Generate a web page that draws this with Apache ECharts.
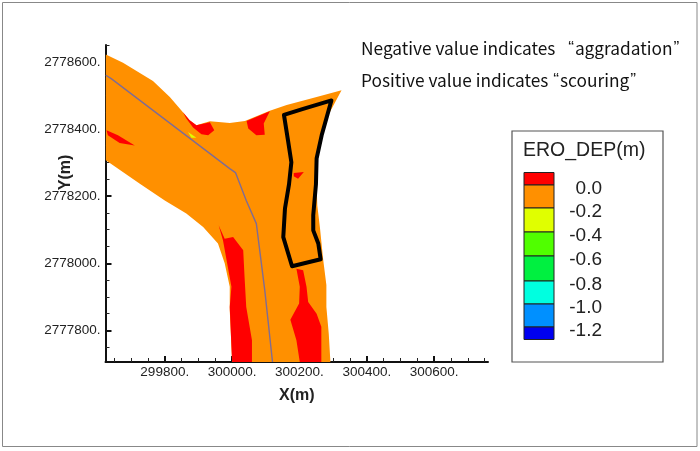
<!DOCTYPE html>
<html><head><meta charset="utf-8">
<style>html,body{margin:0;padding:0;background:#fff}#c{width:700px;height:451px}</style>
<script src="https://cdn.jsdelivr.net/npm/echarts@6/dist/echarts.min.js"></script>
</head><body><div id="c"></div>
<script>
const xRange = [299624, 300760];
const yRange = [2777706, 2778650];
const xMajor = [299800,300000,300200,300400,300600];
const yMajor = [2777800,2778000,2778200,2778400,2778600];
const xMinor = [299650,299700,299750,299850,299900,299950,300050,300100,300150,300250,300300,300350,300450,300500,300550,300650,300700,300750];
const yMinor = [2777750,2777850,2777900,2777950,2778050,2778100,2778150,2778250,2778300,2778350,2778450,2778500,2778550,2778650];
const channel = [[299625,2778622],[299676,2778597],[299765,2778543],[299815,2778495],[299854,2778450],[299874,2778426],[299894,2778411],[299934,2778423],[299968,2778420],[299993,2778418],[300038,2778424],[300112,2778454],[300162,2778471],[300251,2778495],[300325,2778515],[300285,2778440],[300266,2778391],[300254,2778337],[300252,2778267],[300251,2778232],[300253,2778173],[300261,2778105],[300270,2778015],[300280,2777935],[300280,2777870],[300287,2777791],[300292,2777706],[300000,2777706],[299993,2777860],[299993,2777930],[299978,2778000],[299958,2778059],[299914,2778108],[299864,2778148],[299800,2778187],[299726,2778237],[299625,2778307]];
const redPatches = [
 [[299854,2778450],[299874,2778426],[299894,2778411],[299934,2778420],[299947,2778396],[299929,2778381],[299909,2778384],[299884,2778404],[299864,2778431]],
 [[300112,2778453],[300043,2778424],[300048,2778401],[300072,2778381],[300097,2778383],[300094,2778416]],
 [[299627,2778396],[299661,2778381],[299711,2778351],[299666,2778358],[299631,2778381]],
 [[300183,2778269],[300213,2778272],[300196,2778252],[300183,2778259]],
 [[299960,2778113],[299978,2778073],[300003,2778078],[300033,2778039],[300037,2777959],[300042,2777870],[300059,2777771],[300059,2777706],[300000,2777706],[299993,2777870],[299998,2777930],[299973,2778068]],
 [[300191,2777984],[300211,2777979],[300221,2777930],[300226,2777885],[300251,2777850],[300265,2777811],[300265,2777706],[300201,2777706],[300191,2777771],[300173,2777832],[300199,2777880],[300201,2777930]]
];
const yellowPatch = [[299869,2778391],[299894,2778374],[299879,2778374]];
const centerLine = [[299625,2778560],[299641,2778550],[299993,2778282],[300010,2778270],[300042,2778187],[300072,2778118],[300097,2777920],[300120,2777706]];
const studyBox = [[300295,2778485],[300211,2778460],[300154,2778442],[300166,2778366],[300176,2778301],[300169,2778235],[300157,2778163],[300152,2778078],[300178,2777991],[300263,2778012],[300256,2778059],[300241,2778098],[300241,2778143],[300249,2778235],[300251,2778312],[300266,2778381]];
const legendTitle = 'ERO_DEP(m)';
const legendLabels = ['0.0','-0.2','-0.4','-0.6','-0.8','-1.0','-1.2'];
const legendColors = ['#ff0000','#ff9000','#e0ff00','#50ff00','#00f040','#00ffe0','#0090ff','#0000f0'];
const noteHead = ['Negative value indicates  ','Positive value indicates '];
const noteWord = ['aggradation','scouring'];

const bandEdges = [172.5,185,208,232,256,281,304,327,339.5];
const legend = [];
legendColors.forEach((c,i)=>legend.push({type:'rect',shape:{x:524,y:bandEdges[i],width:30,height:bandEdges[i+1]-bandEdges[i]},style:{fill:c,stroke:'#222',lineWidth:1}}));
legendLabels.forEach((t,i)=>legend.push({type:'text',style:{x:602,y:bandEdges[i+1]+3.5,text:t,fill:'#222',font:'19px "Liberation Sans"',align:'right',verticalAlign:'middle'}}));

function poly(points,fill,z){
  return {type:'custom',coordinateSystem:'cartesian2d',clip:true,silent:true,z:z,
    data:points,
    renderItem:(p,api)=>p.dataIndex===0?{type:'polygon',shape:{points:points.map(q=>api.coord(q))},style:{fill:fill}}:null};
}
function line(points,color,width,z,closed){
  const d = closed?points.concat([points[0],points[1]]):points;
  return {type:'line',data:d,symbol:'none',silent:true,z:z,animation:false,lineStyle:{color:color,width:width,join:'round'}};
}
function note(i,y,gap){
  return {type:'text',style:{x:361,y:y,verticalAlign:'middle',
    text:'{a|'+noteHead[i]+'}{o|“}{a|'+noteWord[i]+'}{q|”}',
    rich:{a:{fontFamily:'Noto Sans CJK SC',fontSize:17.3,fill:'#111'},
      o:{fontFamily:'Liberation Sans',fontSize:17.3,fill:'#111',padding:[0,1,0,gap]},
      q:{fontFamily:'Liberation Sans',fontSize:17.3,fill:'#111',padding:[0,1,0,1]}}}};
}
const labelStyle = {fontFamily:'Liberation Sans',fontSize:13.5,color:'#222'};
const nameStyle = {fontFamily:'Liberation Sans',fontWeight:'bold',fontSize:16,color:'#222'};
function minorAxis(values,range,pos){
  return {type:'value',min:range[0],max:range[1],position:pos,
    axisLine:{show:false},axisLabel:{show:false},splitLine:{show:false},
    axisTick:{show:true,inside:true,length:4,lineStyle:{color:'#222',width:1},customValues:values}};
}
const chart = echarts.init(document.getElementById('c'),null,{renderer:'canvas'});
chart.setOption({
  animation:false,backgroundColor:'#fff',
  grid:{left:105.5,top:45,width:382.5,height:317,containLabel:false},
  xAxis:[{type:'value',min:xRange[0],max:xRange[1],position:'bottom',
    name:'X(m)',nameLocation:'middle',nameGap:26,nameMoveOverlap:false,nameTextStyle:nameStyle,
    axisLine:{onZero:false,lineStyle:{color:'#111',width:2}},
    axisTick:{show:true,inside:true,length:6,lineStyle:{color:'#111',width:2},customValues:xMajor},
    splitLine:{show:false},
    axisLabel:{customValues:xMajor,formatter:v=>v+'.',margin:3,hideOverlap:false,...labelStyle}},
    minorAxis(xMinor,xRange,'bottom')],
  yAxis:[{type:'value',min:yRange[0],max:yRange[1],position:'left',
    name:'Y(m)',nameLocation:'middle',nameRotate:90,nameGap:32,nameMoveOverlap:false,nameTextStyle:{...nameStyle,padding:[0,0,0,62]},
    axisLine:{onZero:false,lineStyle:{color:'#111',width:2}},
    axisTick:{show:true,inside:true,length:6,lineStyle:{color:'#111',width:2},customValues:yMajor},
    splitLine:{show:false},
    axisLabel:{customValues:yMajor,formatter:v=>v+'.',margin:5,hideOverlap:false,...labelStyle}},
    minorAxis(yMinor,yRange,'left')],
  series:[
    poly(channel,'#ff9000',1),
    ...redPatches.map(r=>poly(r,'#ff0000',2)),
    poly(yellowPatch,'#e0ff00',3),
    line(centerLine,'#7f6c94',1.4,4,false),
    line(studyBox,'#000',4,5,true)
  ],
  graphic:{elements:[
    {type:'rect',shape:{x:2.5,y:2.5,width:694.5,height:444},style:{fill:'none',stroke:'#888',lineWidth:1},z:-1},
    {type:'rect',shape:{x:512,y:131,width:151,height:231},style:{fill:'#fff',stroke:'#555',lineWidth:1.2}},
    {type:'text',style:{x:523,y:151,text:legendTitle,fill:'#222',font:'19.5px "Liberation Sans"',verticalAlign:'middle'}},
    ...legend,
    note(0,48,5),note(1,80,1)
  ]}
});
</script></body></html>
